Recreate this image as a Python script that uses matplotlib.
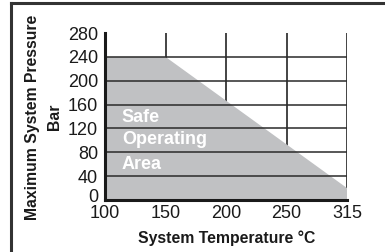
import matplotlib.pyplot as plt
from matplotlib.lines import Line2D
from matplotlib.transforms import ScaledTranslation

plt.rcParams['font.family'] = ['Liberation Sans', 'DejaVu Sans']

# data
temp_labels = ["100", "150", "200", "250", "315"]
pressure_ticks = [0, 40, 80, 120, 160, 200, 240, 280]
area_x = [0, 0, 1, 4, 4]          # positions along the temperature axis
area_y = [0, 240, 240, 20, 0]     # bar
area_text = ["Safe", "Operating", "Area"]
area_text_y = [139, 101, 59]

fig = plt.figure(figsize=(3.85, 2.52), dpi=100)
ax = fig.add_axes([105/385, 1-200/252, 242/385, 167/252])

pos = list(range(len(temp_labels)))

# vertical grid under the fill
for p in pos[1:]:
    ax.plot([p, p], [0, 280], color='#111111', lw=1.1, zorder=1)

ax.fill(area_x, area_y, color='#c0c1c3', lw=0, zorder=2)

# horizontal grid over the fill
for v in pressure_ticks[1:-1]:
    ax.plot([0, 4], [v, v], color='#2a2a2a', lw=1.1, zorder=3)

for t, ty in zip(area_text, area_text_y):
    ax.text(0.28, ty, t, color='white', fontsize=13, fontweight='bold',
            va='center', ha='left', zorder=4)

ax.set_xlim(0, 4)
ax.set_ylim(0, 280)
ax.set_xticks(pos)
ax.set_xticklabels(temp_labels)
ax.set_yticks(pressure_ticks)
ax.tick_params(length=0, labelsize=13, pad=3.5, colors='#1a1a1a')
ax.tick_params(axis='y', pad=5)
# lift the "0" a little so it clears the "100"
zero = ax.get_yticklabels()[0]
zero.set_transform(zero.get_transform() + ScaledTranslation(0, 3/72, fig.dpi_scale_trans))
for s in ['top', 'right']:
    ax.spines[s].set_visible(False)
for s in ['left', 'bottom']:
    ax.spines[s].set_linewidth(2.2)
    ax.spines[s].set_color('#1a1a1a')
    ax.spines[s].set_zorder(5)

fig.text(227/385, 1-238/252, "System Temperature °C", fontsize=11.3,
         fontweight='bold', ha='center', va='center', color='#1a1a1a')
fig.text(33/385, 1-117/252, "Maximum System Pressure", fontsize=11.3,
         fontweight='bold', ha='center', va='center', rotation=90, color='#1a1a1a')
fig.text(55/385, 1-117/252, "Bar", fontsize=11.3,
         fontweight='bold', ha='center', va='center', rotation=90, color='#1a1a1a')

# frame
fig.add_artist(Line2D([11/385, 1], [1-3/252, 1-3/252], color='#333333', lw=2.2))
fig.add_artist(Line2D([11/385, 11/385], [0, 1-3/252], color='#333333', lw=2.2))

fig.savefig("out.png", dpi=100)
